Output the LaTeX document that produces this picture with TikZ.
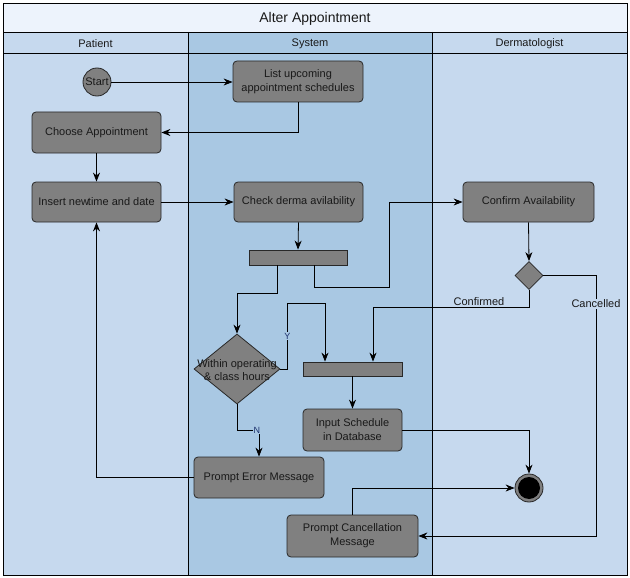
\documentclass[tikz,border=0pt]{standalone}
\usepackage{fontspec}
\setmainfont{Liberation Sans}
\usetikzlibrary{shapes.geometric,arrows.meta,calc}
\definecolor{titlefill}{RGB}{237,243,252}
\definecolor{lanelight}{RGB}{198,217,238}
\definecolor{lanedark}{RGB}{169,200,227}
\definecolor{nodegray}{RGB}{128,128,128}
\definecolor{nodeedge}{RGB}{40,40,40}
\definecolor{lbl}{RGB}{30,50,110}
\tikzset{
  act/.style={draw=nodeedge, fill=nodegray, rounded corners=4pt, line width=0.8pt,
    align=center, inner sep=0pt, text=black!90,
    font=\fontsize{11}{14}\selectfont},
  barbox/.style={draw=nodeedge, fill=nodegray, line width=0.8pt, inner sep=0pt},
  decis/.style={draw=nodeedge, fill=nodegray, line width=0.8pt, shape=diamond,
    inner sep=0pt},
  flow/.style={draw=black, line width=0.8pt, -{Stealth[length=9pt,width=7pt]}},
  lanehead/.style={font=\fontsize{11}{13}\selectfont, text=black!90},
  plain/.style={font=\fontsize{11}{13}\selectfont, text=black!90, inner sep=1pt},
  small/.style={font=\fontsize{9}{10}\selectfont, text=lbl, inner sep=0.5pt},
}
\begin{document}
\begin{tikzpicture}[x=1pt,y=-1pt]
\useasboundingbox (0,0) rectangle (630,578);
% lanes
\fill[white] (0,0) rectangle (630,578);
\fill[titlefill] (3,3) rectangle (627,32);
\fill[lanelight] (3,32) rectangle (188,575);
\fill[lanedark] (188,32) rectangle (432,575);
\fill[lanelight] (432,32) rectangle (627,575);
\draw[line width=0.8pt] (3,3) rectangle (627,575);
\draw[line width=0.8pt] (3,32) -- (627,32);
\draw[line width=0.8pt] (3,53) -- (627,53);
\draw[line width=0.8pt] (188,32) -- (188,575);
\draw[line width=0.8pt] (432,32) -- (432,575);
\node[font=\fontsize{14}{16}\selectfont, text=black!90] (title) at (315,18.5) {Alter Appointment};
\node[lanehead] (hpat) at (95.5,43.5) {Patient};
\node[lanehead] (hsys) at (310,43.5) {System};
\node[lanehead] (hder) at (529.5,43.5) {Dermatologist};

% nodes
\node[circle, draw=nodeedge, fill=nodegray, line width=0.8pt, minimum size=28pt, inner sep=0pt,
  font=\fontsize{11}{13}\selectfont, text=black!90] (start) at (97,82) {Start};
\node[act, minimum width=130pt, minimum height=41pt] (list) at (298,81.5) {List upcoming\\appointment schedules};
\node[act, minimum width=129pt, minimum height=41pt] (choose) at (96.5,132.5) {Choose Appointment};
\node[act, minimum width=129pt, minimum height=40pt] (insert) at (96.5,202) {Insert new\hspace{-0.1em}time and date};
\node[act, minimum width=129pt, minimum height=40pt] (check) at (298.5,202) {Check derma avilability};
\node[barbox, minimum width=98pt, minimum height=15pt] (bar1) at (298,257.5) {};
\node[act, minimum width=131pt, minimum height=40pt] (confirm) at (528.5,202) {Confirm Availability};
\node[decis, minimum width=28pt, minimum height=28pt] (dsmall) at (529,275.5) {};
\node[decis, minimum width=86pt, minimum height=70pt] (dbig) at (237,369) {};
\node[plain, align=center, font=\fontsize{11}{13}\selectfont] (dbigtxt) at (237,370) {Within operating\\\& class hours};
\node[barbox, minimum width=99pt, minimum height=14pt] (bar2) at (352.5,369) {};
\node[act, minimum width=99pt, minimum height=42pt] (input) at (352.5,430) {Input Schedule\\in Database};
\node[act, minimum width=130pt, minimum height=41pt] (perr) at (259,477.5) {Prompt Error Message};
\node[circle, draw=nodeedge, fill=nodegray, line width=0.8pt, minimum size=28pt, inner sep=0pt] (endn) at (529,488) {};
\node[circle, fill=black, minimum size=22pt, inner sep=0pt] (endin) at (529,488) {};
\node[act, minimum width=131pt, minimum height=42pt] (pcancel) at (352.5,536) {Prompt Cancellation\\Message};

% connectors
\draw[flow] (start.east) -- (start.east -| list.west);
\draw[flow] (list.south) |- (choose.east);
\draw[flow] (choose.south) -- (insert.north);
\draw[flow] (insert.east) -- (check.west);
\draw[flow] (check.south) -- (bar1.north);
\draw[flow] ([xshift=-21pt]bar1.south) -- ++(0,28) -| (dbig.north);
\draw[flow] ([xshift=16pt]bar1.south) -- ++(0,22) -- ++(75,0) |- (confirm.west);
\draw[flow] (confirm.south) -- (dsmall.north);
\draw[flow] (dbig.east) -- ++(7,0) -- node[small, fill=lanedark, pos=0.5] (ylab) {Y} ++(0,-66) -| ([xshift=-27.5pt]bar2.north);
\draw[flow] (dbig.south) -- ++(0,26) -| node[small, fill=lanedark, pos=0.45] (nlab) {N} (perr.north);
\draw[flow] (dsmall.south) -- ++(0,17) -| ([xshift=20.5pt]bar2.north);
\draw[flow] (dsmall.east) -- ++(53,0) |- (pcancel.east);
\draw[flow] (bar2.south) -- (input.north);
\draw[flow] (input.east) -| (endn.north);
\draw[flow] (pcancel.north) |- (endn.west);
\draw[flow] (perr.west) -| (insert.south);
\node[plain] (lconf) at (479,302) {Confirmed};
\node[plain, fill=lanelight] (lcanc) at (596,304) {Cancelled};
\end{tikzpicture}
\end{document}
